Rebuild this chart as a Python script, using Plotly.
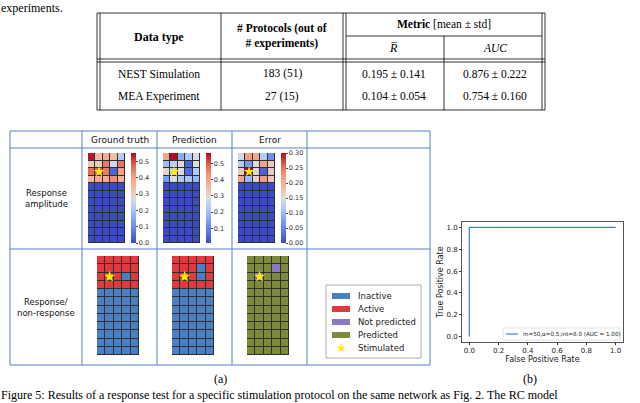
import plotly.graph_objects as go

W, H = 640, 403

# ---- data -------------------------------------------------------------
table_cols = ["Data type", "# Protocols (out of<br># experiments)"]
data_types = ["NEST Simulation", "MEA Experiment"]
protocols = ["183 (51)", "27 (15)"]
r_bar = ["0.195 ± 0.141", "0.104 ± 0.054"]
auc_vals = ["0.876 ± 0.222", "0.754 ± 0.160"]

col_titles = ["Ground truth", "Prediction", "Error"]
row_titles = ["Response<br>amplitude", "Response/<br>non-response"]

# response amplitude, 12 rows x 5 electrodes
gt_amp = [
    [0.54, 0.34, 0.38, 0.34, 0.22],
    [0.32, 0.31, 0.45, 0.26, 0.46],
    [0.47, 0.48, 0.45, 0.04, 0.40],
    [0.35, 0.38, 0.38, 0.43, 0.36],
    [0.00, 0.00, 0.00, 0.00, 0.00],
    [0.00, 0.00, 0.00, 0.00, 0.00],
    [0.00, 0.00, 0.00, 0.00, 0.00],
    [0.00, 0.00, 0.00, 0.00, 0.00],
    [0.00, 0.00, 0.00, 0.00, 0.00],
    [0.00, 0.00, 0.00, 0.00, 0.00],
    [0.00, 0.00, 0.00, 0.00, 0.00],
    [0.00, 0.00, 0.00, 0.00, 0.00],
]
pred_amp = [
    [0.40, 0.56, 0.17, 0.22, 0.28],
    [0.20, 0.24, 0.30, 0.05, 0.29],
    [0.30, 0.22, 0.29, 0.06, 0.23],
    [0.14, 0.28, 0.22, 0.21, 0.19],
    [0.01, 0.01, 0.01, 0.01, 0.01],
    [0.01, 0.01, 0.01, 0.01, 0.01],
    [0.01, 0.01, 0.01, 0.01, 0.01],
    [0.01, 0.01, 0.01, 0.01, 0.01],
    [0.01, 0.01, 0.01, 0.01, 0.01],
    [0.01, 0.01, 0.01, 0.01, 0.01],
    [0.01, 0.01, 0.01, 0.01, 0.01],
    [0.01, 0.01, 0.01, 0.01, 0.01],
]
err_amp = [
    [0.14, 0.22, 0.21, 0.12, 0.06],
    [0.12, 0.07, 0.15, 0.21, 0.17],
    [0.17, 0.30, 0.16, 0.02, 0.17],
    [0.21, 0.10, 0.16, 0.22, 0.17],
    [0.00, 0.00, 0.00, 0.00, 0.00],
    [0.00, 0.00, 0.00, 0.00, 0.00],
    [0.00, 0.00, 0.00, 0.00, 0.00],
    [0.00, 0.00, 0.00, 0.00, 0.00],
    [0.00, 0.00, 0.00, 0.00, 0.00],
    [0.00, 0.00, 0.00, 0.00, 0.00],
    [0.00, 0.00, 0.00, 0.00, 0.00],
    [0.00, 0.00, 0.00, 0.00, 0.00],
]
amp_ranges = [(0.0, 0.553), (0.01, 0.563), (0.0, 0.30)]
amp_ticks = [[0.0, 0.1, 0.2, 0.3, 0.4, 0.5], [0.1, 0.2, 0.3, 0.4, 0.5],
             [0.00, 0.05, 0.10, 0.15, 0.20, 0.25, 0.30]]
amp_ticktext = [["0.0", "0.1", "0.2", "0.3", "0.4", "0.5"], ["0.1", "0.2", "0.3", "0.4", "0.5"],
                ["0.00", "0.05", "0.10", "0.15", "0.20", "0.25", "0.30"]]

# response / non-response: 0 inactive, 1 active, 2 not predicted, 3 predicted
gt_state = [
    [1, 1, 1, 1, 1],
    [1, 1, 1, 1, 1],
    [1, 1, 1, 0, 1],
    [1, 1, 1, 1, 1],
    [0, 0, 0, 0, 0],
    [0, 0, 0, 0, 0],
    [0, 0, 0, 0, 0],
    [0, 0, 0, 0, 0],
    [0, 0, 0, 0, 0],
    [0, 0, 0, 0, 0],
    [0, 0, 0, 0, 0],
    [0, 0, 0, 0, 0],
]
pred_state = [
    [1, 1, 1, 1, 1],
    [1, 1, 1, 0, 1],
    [1, 1, 1, 0, 1],
    [1, 1, 1, 1, 1],
    [0, 0, 0, 0, 0],
    [0, 0, 0, 0, 0],
    [0, 0, 0, 0, 0],
    [0, 0, 0, 0, 0],
    [0, 0, 0, 0, 0],
    [0, 0, 0, 0, 0],
    [0, 0, 0, 0, 0],
    [0, 0, 0, 0, 0],
]
err_state = [
    [3, 3, 3, 3, 3],
    [3, 3, 3, 2, 3],
    [3, 2, 3, 3, 3],
    [3, 3, 3, 3, 3],
    [3, 3, 3, 3, 3],
    [3, 3, 3, 3, 3],
    [3, 3, 3, 3, 3],
    [3, 3, 3, 3, 3],
    [3, 3, 3, 3, 3],
    [3, 3, 3, 3, 3],
    [3, 3, 3, 3, 3],
    [3, 3, 3, 3, 3],
]
stim_col, stim_row = 1, 2

legend_names = ["Inactive", "Active", "Not predicted", "Predicted", "Stimulated"]
state_colors = ["#4a7fc4", "#e2383e", "#8b79c2", "#7f8a3a"]

roc_fpr = [0.0, 0.0, 1.0]
roc_tpr = [0.0, 1.0, 1.0]
roc_label = "m=50,α=0.5,int=8.0 (AUC = 1.00)"
roc_ticks = [0.0, 0.2, 0.4, 0.6, 0.8, 1.0]

caption = ("Figure 5: Results of a response test for a specific stimulation protocol "
           "on the same network as Fig. 2. The RC model")

# ---- helpers ----------------------------------------------------------
def px(x):
    return x / W

def py(y):
    return 1 - y / H

coolwarm = [[0.0, "#3b4cc0"], [0.125, "#5a78e4"], [0.25, "#7b9ff9"], [0.375, "#aac7fd"],
            [0.5, "#dddddd"], [0.625, "#f7b89c"], [0.75, "#f49a7b"], [0.875, "#de604d"],
            [1.0, "#b40426"]]
state_scale = [[0.0, state_colors[0]], [0.25, state_colors[0]], [0.25, state_colors[1]],
               [0.5, state_colors[1]], [0.5, state_colors[2]], [0.75, state_colors[2]],
               [0.75, state_colors[3]], [1.0, state_colors[3]]]

serif = "Liberation Serif"
sans = "DejaVu Sans"

fig = go.Figure()
shapes = []
annotations = []

def line(x0, y0, x1, y1, color="black", width=1):
    shapes.append(dict(type="line", xref="paper", yref="paper", x0=px(x0), y0=py(y0),
                       x1=px(x1), y1=py(y1), line=dict(color=color, width=width)))

def text(x, y, s, size, font=serif, color="black", xanchor="center", yanchor="middle", **kw):
    annotations.append(dict(x=px(x), y=py(y), xref="paper", yref="paper", text=s,
                            showarrow=False, xanchor=xanchor, yanchor=yanchor,
                            font=dict(family=font, size=size, color=color), **kw))

# ---- page text + table -----------------------------------------------
text(0, 0, "experiments.", 12, xanchor="left", yanchor="top", borderpad=0)

TL, TR, TT, TB = 97, 545, 13, 110
C1, C2, C3 = 221, 343, 444
for x in (TL, TL + 3, C2, C2 + 3, TR - 3, TR):
    line(x, TT, x, TB, width=0.8)
line(C1, TT, C1, TB, width=0.8)
line(C3, 36, C3, TB, width=0.8)
line(TL, TT, TR, TT, width=0.8)
line(C2 + 3, 36, TR - 3, 36, width=0.8)
line(TL, 59, TR, 59, width=0.8)
line(TL, 62, TR, 62, width=0.8)
line(TL, TB, TR, TB, width=0.8)

text((TL + C1) / 2, 37, "<b>" + table_cols[0] + "</b>", 12)
text((C1 + C2) / 2, 36, "<b>" + table_cols[1] + "</b>", 11.5)
text((C2 + TR) / 2, 24, "<b>Metric</b> [mean ± std]", 11.5)
text((C2 + C3) / 2, 48, "<i>R̅</i>", 12)
text((C3 + TR) / 2, 48, "<i>AUC</i>", 11.5)
for i, yy in enumerate((74, 96)):
    text((TL + C1) / 2, yy, data_types[i], 11.5)
    text((C1 + C2) / 2, yy, protocols[i], 11.5)
    text((C2 + C3) / 2, yy, r_bar[i], 11.5)
    text((C3 + TR) / 2, yy, auc_vals[i], 11.5)

# ---- panel (a) frame --------------------------------------------------
PL, PR, PT, PB = 10, 430, 131, 365
pcols = [PL, 82, 157, 232, 307, PR]
blue = "#5b7fc8"
for x in pcols:
    line(x, PT, x, PB, color=blue, width=1)
for y in (PT, 148, 249, PB):
    line(PL, y, PR, y, color=blue, width=1)
for i, t in enumerate(col_titles):
    text((pcols[i + 1] + pcols[i + 2]) / 2, 140, t, 9, font=sans, color="#111")
text((PL + 82) / 2, 198, row_titles[0], 8.5, font=sans, color="#111")
text((PL + 82) / 2, 307, row_titles[1], 8.5, font=sans, color="#111")

# ---- heatmaps ---------------------------------------------------------
layout_axes = {}
amp_data = [gt_amp, pred_amp, err_amp]
state_data = [gt_state, pred_state, err_state]
for k in range(3):
    c0 = pcols[k + 1]
    idx = k + 1
    boxes = [(c0 + 6, c0 + 43, 153, 243), (c0 + 15, c0 + 57, 256, 355)]
    for r, (x0, x1, y0, y1) in enumerate(boxes):
        n = idx + 3 * r
        xa, ya = ("x" if n == 1 else f"x{n}"), ("y" if n == 1 else f"y{n}")
        layout_axes["xaxis" if n == 1 else f"xaxis{n}"] = dict(
            domain=[px(x0), px(x1)], anchor=ya, range=[-0.5, 4.5], visible=False)
        layout_axes["yaxis" if n == 1 else f"yaxis{n}"] = dict(
            domain=[py(y1), py(y0)], anchor=xa, range=[11.5, -0.5], visible=False)
        shapes.append(dict(type="rect", xref=xa, yref=ya, x0=-0.5, x1=4.5, y0=-0.5, y1=11.5,
                           fillcolor="#2f2f2f", line=dict(color="#2f2f2f", width=0.8),
                           layer="below"))
        if r == 0:
            zmin, zmax = amp_ranges[k]
            fig.add_trace(go.Heatmap(
                z=amp_data[k], xaxis=xa, yaxis=ya, colorscale=coolwarm, zmin=zmin, zmax=zmax,
                xgap=1, ygap=1, hoverinfo="skip",
                colorbar=dict(x=px(x1 + 6), xanchor="left", y=py((y0 + y1) / 2),
                              yanchor="middle", len=(y1 - y0) / H, lenmode="fraction",
                              thickness=5, outlinewidth=0, xpad=0, ypad=0,
                              tickvals=amp_ticks[k], ticktext=amp_ticktext[k],
                              ticks="outside", ticklen=2, tickwidth=0.6, tickcolor="#444",
                              tickfont=dict(family=sans, size=6.5, color="#333"))))
        else:
            fig.add_trace(go.Heatmap(
                z=state_data[k], xaxis=xa, yaxis=ya, colorscale=state_scale, zmin=0, zmax=3,
                xgap=1, ygap=1, showscale=False, hoverinfo="skip"))
        fig.add_trace(go.Scatter(
            x=[stim_col], y=[stim_row], xaxis=xa, yaxis=ya, mode="markers",
            marker=dict(symbol="star", size=8 if r == 0 else 8.5, color="#ffee00",
                        line=dict(width=0)),
            showlegend=False, hoverinfo="skip"))

# ---- panel legend -----------------------------------------------------
shapes.append(dict(type="rect", xref="paper", yref="paper", x0=px(326), x1=px(421),
                   y0=py(358), y1=py(285), line=dict(color="#999999", width=0.8),
                   fillcolor="white"))
leg_y = [296, 309, 322, 335, 348]
for i, name in enumerate(legend_names):
    if i < 4:
        shapes.append(dict(type="rect", xref="paper", yref="paper", x0=px(332), x1=px(350),
                           y0=py(leg_y[i] + 3), y1=py(leg_y[i] - 3),
                           fillcolor=state_colors[i], line=dict(width=0)))
    else:
        text(341, leg_y[i], "★", 12, font=sans, color="#ffee00")
    text(356, leg_y[i], name, 8.5, font=sans, color="#222", xanchor="left")

text((PL + PR) / 2, 379, "(a)", 12)

# ---- panel (b) ROC ----------------------------------------------------
axis_style = dict(range=[-0.05, 1.05], tickvals=roc_ticks,
                  ticktext=[f"{v:.1f}" for v in roc_ticks],
                  ticks="outside", ticklen=2, tickcolor="#333",
                  showline=True, mirror=True, linecolor="#555", linewidth=1,
                  showgrid=False, zeroline=False,
                  tickfont=dict(family=sans, size=7, color="#222"))
layout_axes["xaxis7"] = dict(domain=[px(462), px(623)], anchor="y7", **axis_style,
                             title=dict(text="False Positive Rate", standoff=1,
                                        font=dict(family=sans, size=8, color="#222")))
layout_axes["yaxis7"] = dict(domain=[py(342), py(222)], anchor="x7", **axis_style,
                             title=dict(text="True Positive Rate", standoff=1,
                                        font=dict(family=sans, size=8, color="#222")))
fig.add_trace(go.Scatter(x=roc_fpr, y=roc_tpr, xaxis="x7", yaxis="y7", mode="lines",
                         line=dict(color="#3f82cc", width=1.2), showlegend=False,
                         hoverinfo="skip"))
shapes.append(dict(type="rect", xref="paper", yref="paper", x0=px(503), x1=px(620),
                   y0=py(340), y1=py(328), line=dict(color="#cccccc", width=0.6),
                   fillcolor="white"))
line(506, 334, 518, 334, color="#3f82cc", width=1.2)
text(521, 334, roc_label, 5.6, font=sans, color="#222", xanchor="left")
text(530, 379, "(b)", 12)

# ---- caption ----------------------------------------------------------
text(0, 403, caption, 12, xanchor="left", yanchor="bottom", borderpad=0)

fig.update_layout(width=W, height=H, margin=dict(l=0, r=0, t=0, b=0),
                  paper_bgcolor="white", plot_bgcolor="white", showlegend=False,
                  shapes=shapes, annotations=annotations, **layout_axes)
# drop the default page margin so the figure sits at the window's top-left
fig.write_html("out.html", config={"displayModeBar": False},
               post_script="document.body.style.margin='0';")
